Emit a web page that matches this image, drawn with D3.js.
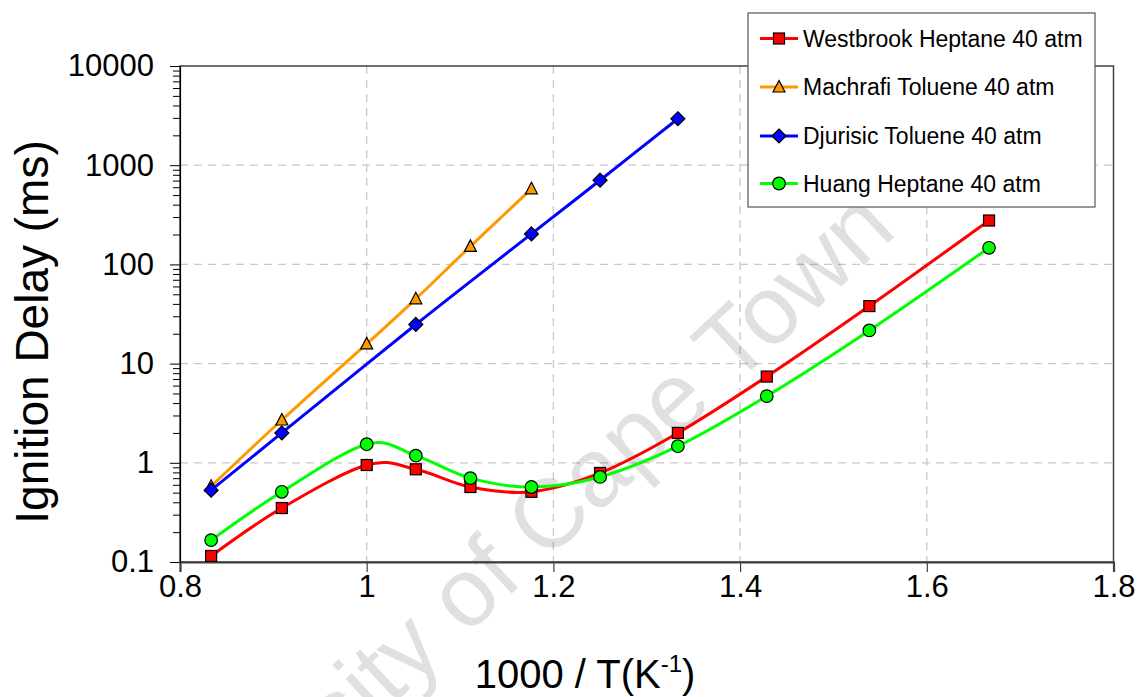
<!DOCTYPE html>
<html>
<head>
<meta charset="utf-8">
<script src="https://cdn.jsdelivr.net/npm/d3@7"></script>
<style>
  html, body { margin: 0; padding: 0; background: #fff; }
  svg { display: block; font-family: "Liberation Sans", Arial, sans-serif; }
</style>
</head>
<body>
<svg id="chart" width="1138" height="697"></svg>
<script>
// Temperatures (K) of the simulated / measured points
const tempsAll = [1200, 1100, 1000, 950, 900, 850, 800, 750, 700, 650, 600];
const westbrookHeptane = [0.115, 0.35, 0.95, 0.86, 0.57, 0.51, 0.79, 2.0, 7.4, 38, 277];
const huangHeptane     = [0.166, 0.51, 1.54, 1.18, 0.70, 0.57, 0.72, 1.47, 4.7, 21.6, 147];

const tempsMachrafi = [1200, 1100, 1000, 950, 900, 850];
const machrafiToluene = [0.58, 2.7, 15.8, 45, 152, 578];

const tempsDjurisic = [1200, 1100, 950, 850, 800, 750];
const djurisicToluene = [0.53, 2.0, 24.8, 203, 706, 2940];

const xTicks = [0.8, 1.0, 1.2, 1.4, 1.6, 1.8];
const xTickLabels = ["0.8", "1", "1.2", "1.4", "1.6", "1.8"];
const yTicks = [0.1, 1, 10, 100, 1000, 10000];
const yTickLabels = ["0.1", "1", "10", "100", "1000", "10000"];

const seriesNames = ["Westbrook Heptane 40 atm", "Machrafi Toluene 40 atm",
                     "Djurisic Toluene 40 atm", "Huang Heptane 40 atm"];
const seriesColors = ["#ff0000", "#ff9900", "#0000ff", "#00ff00"];
const seriesSymbols = ["square", "triangle", "diamond", "circle"];

const toPoints = (temps, vals) => temps.map((t, i) => ({ x: 1000 / t, y: vals[i] }));
const series = [
  toPoints(tempsAll, westbrookHeptane),
  toPoints(tempsMachrafi, machrafiToluene),
  toPoints(tempsDjurisic, djurisicToluene),
  toPoints(tempsAll, huangHeptane)
];

const svg = d3.select("#chart");
const plotL = 180, plotR = 1113.5, plotT = 66, plotB = 562;

const x = d3.scaleLinear().domain([0.8, 1.8]).range([plotL, plotR]);
const y = d3.scaleLog().domain([0.1, 10000]).range([plotB, plotT]);

// grid
const grid = svg.append("g").attr("stroke", "#c8c8c8").attr("stroke-width", 1.3)
  .attr("stroke-dasharray", "8,6");
grid.selectAll("line.h").data(yTicks.slice(1, -1)).join("line").attr("class", "h")
  .attr("x1", plotL).attr("x2", plotR)
  .attr("y1", d => y(d)).attr("y2", d => y(d));
grid.selectAll("line.v").data(xTicks.slice(1, -1)).join("line").attr("class", "v")
  .attr("y1", plotT).attr("y2", plotB)
  .attr("x1", d => x(d)).attr("x2", d => x(d));

// watermark
svg.append("text")
  .attr("transform", "translate(135,945) rotate(-43)")
  .attr("font-size", 97)
  .attr("fill", "#000").attr("fill-opacity", 0.12)
  .text("University of Cape Town");

// frame
svg.append("rect").attr("x", plotL).attr("y", plotT)
  .attr("width", plotR - plotL).attr("height", plotB - plotT)
  .attr("fill", "none").attr("stroke", "#404040").attr("stroke-width", 1.5);

// y axis (log, with minor ticks)
const minor = [];
for (let e = -1; e < 4; e++) for (let k = 2; k <= 9; k++) minor.push(k * Math.pow(10, e));
const yAxisMinor = d3.axisLeft(y).tickValues(minor).tickSize(7).tickFormat("");
svg.append("g").attr("transform", `translate(${plotL},0)`).call(yAxisMinor)
  .call(g => g.select(".domain").remove())
  .call(g => g.selectAll("line").attr("stroke", "#000"));
const yAxis = d3.axisLeft(y).tickValues(yTicks).tickSize(10).tickPadding(16)
  .tickFormat((d, i) => yTickLabels[i]);
svg.append("g").attr("transform", `translate(${plotL},0)`).call(yAxis)
  .call(g => g.select(".domain").attr("stroke", "#000").attr("stroke-width", 1.2))
  .call(g => g.selectAll("line").attr("stroke", "#000"))
  .call(g => g.selectAll("text").attr("font-size", 31).attr("fill", "#000")
    .attr("font-family", "'Liberation Sans', Arial, sans-serif"));

// x axis
const xAxis = d3.axisBottom(x).tickValues(xTicks).tickSize(10).tickPadding(3)
  .tickFormat((d, i) => xTickLabels[i]);
svg.append("g").attr("transform", `translate(0,${plotB})`).call(xAxis)
  .call(g => g.select(".domain").attr("stroke", "#404040").attr("stroke-width", 2.2))
  .call(g => g.selectAll("line").attr("stroke", "#404040").attr("stroke-width", 1.2))
  .call(g => g.selectAll("text").attr("font-size", 31).attr("fill", "#000")
    .attr("font-family", "'Liberation Sans', Arial, sans-serif"));

// axis titles
svg.append("text").attr("transform", "translate(48,332) rotate(-90)")
  .attr("text-anchor", "middle").attr("font-size", 46).attr("fill", "#000")
  .text("Ignition Delay (ms)");
const xt = svg.append("text").attr("x", 585).attr("y", 688)
  .attr("text-anchor", "middle").attr("font-size", 40).attr("fill", "#000");
xt.append("tspan").text("1000 / T(K");
xt.append("tspan").attr("font-size", 24).attr("dy", -16).text("-1");
xt.append("tspan").attr("dy", 16).text(")");

// markers
function drawMarker(g, sym, color, cx, cy) {
  if (sym === "square") {
    g.append("rect").attr("x", cx - 5.5).attr("y", cy - 5.5).attr("width", 11).attr("height", 11)
      .attr("fill", color).attr("stroke", "#000").attr("stroke-width", 1.2);
  } else if (sym === "circle") {
    g.append("circle").attr("cx", cx).attr("cy", cy).attr("r", 6.3)
      .attr("fill", color).attr("stroke", "#000").attr("stroke-width", 1.2);
  } else if (sym === "diamond") {
    g.append("path").attr("d", `M${cx},${cy - 7}L${cx + 7},${cy}L${cx},${cy + 7}L${cx - 7},${cy}Z`)
      .attr("fill", color).attr("stroke", "#000").attr("stroke-width", 1.2);
  } else {
    g.append("path").attr("d", `M${cx},${cy - 6.5}L${cx + 6},${cy + 5}L${cx - 6},${cy + 5}Z`)
      .attr("fill", color).attr("stroke", "#000").attr("stroke-width", 1.2);
  }
}

// series
const line = d3.line().x(d => x(d.x)).y(d => y(d.y)).curve(d3.curveCardinal.tension(0));
series.forEach((pts, i) => {
  const g = svg.append("g");
  g.append("path").datum(pts).attr("d", line)
    .attr("fill", "none").attr("stroke", seriesColors[i]).attr("stroke-width", 3);
  pts.forEach(p => drawMarker(g, seriesSymbols[i], seriesColors[i], x(p.x), y(p.y)));
});

// legend
const lg = svg.append("g");
lg.append("rect").attr("x", 748).attr("y", 13).attr("width", 347).attr("height", 194)
  .attr("fill", "#fff").attr("stroke", "#555").attr("stroke-width", 1.2);
const rowY = [38.5, 87, 136, 183.5];
seriesNames.forEach((name, i) => {
  lg.append("line").attr("x1", 760).attr("x2", 798).attr("y1", rowY[i]).attr("y2", rowY[i])
    .attr("stroke", seriesColors[i]).attr("stroke-width", 3);
  drawMarker(lg, seriesSymbols[i], seriesColors[i], 779, rowY[i]);
  lg.append("text").attr("x", 803).attr("y", rowY[i] + 8.3).attr("font-size", 23)
    .attr("fill", "#000").text(name);
});
</script>
</body>
</html>
